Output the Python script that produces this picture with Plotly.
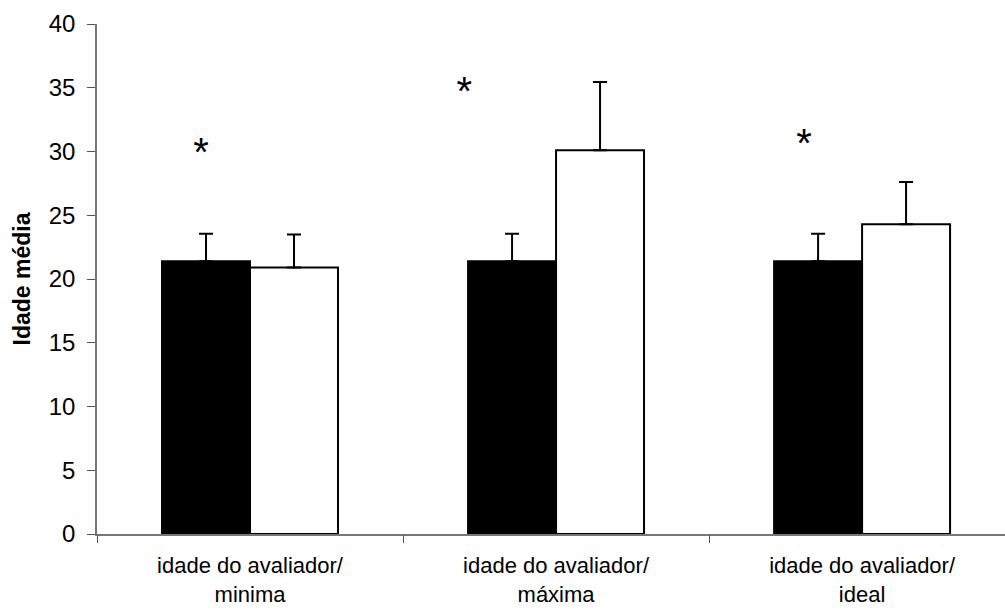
import plotly.graph_objects as go

categories = ["idade do avaliador/<br>minima", "idade do avaliador/<br>máxima", "idade do avaliador/<br>ideal"]
cat_pos = [0, 1, 2]
black_means = [21.4, 21.4, 21.4]
black_err = [2.15, 2.15, 2.15]
white_means = [20.9, 30.1, 24.3]
white_err = [2.6, 5.35, 3.3]
star_x = [-0.16, 0.70, 1.81]
star_y = [29.65, 34.45, 30.35]
y_ticks = [0, 5, 10, 15, 20, 25, 30, 35, 40]
boundaries = [-0.5, 0.5, 1.5, 2.5]

FONT = "Liberation Sans, Arial, sans-serif"
xr = [-0.5, 2.467]

fig = go.Figure()
fig.add_trace(go.Bar(
    x=cat_pos, y=black_means, marker=dict(color="black", line=dict(color="black", width=2)),
    error_y=dict(type="data", symmetric=False, array=black_err, arrayminus=[0, 0, 0],
                 color="black", thickness=2, width=7),
    showlegend=False))
fig.add_trace(go.Bar(
    x=cat_pos, y=white_means, marker=dict(color="white", line=dict(color="black", width=2)),
    error_y=dict(type="data", symmetric=False, array=white_err, arrayminus=[0, 0, 0],
                 color="black", thickness=2, width=7),
    showlegend=False))
fig.add_trace(go.Scatter(
    x=star_x, y=star_y, mode="text", text=["*"] * 3,
    textfont=dict(family=FONT, size=40, color="black"), textposition="middle center",
    showlegend=False, hoverinfo="skip"))
# invisible trace to activate boundary tick axis
fig.add_trace(go.Scatter(x=boundaries, y=[0] * 4, xaxis="x2", mode="markers",
                         marker=dict(opacity=0), showlegend=False, hoverinfo="skip"))

fig.update_layout(
    width=1005, height=612,
    margin=dict(l=97, r=0, t=24, b=78),
    plot_bgcolor="white", paper_bgcolor="white",
    barmode="group", bargap=0.425, bargroupgap=0,
    font=dict(family=FONT, color="black"),
    xaxis=dict(range=xr, tickvals=cat_pos, ticktext=categories, ticks="",
               showline=True, linecolor="#777777", linewidth=1.5, showgrid=False,
               zeroline=False, tickfont=dict(size=22), ticklabelstandoff=11,
               automargin=False),
    xaxis2=dict(range=xr, overlaying="x", anchor="y", side="bottom",
                tickvals=boundaries, ticks="outside", ticklen=8, tickcolor="#555555",
                tickwidth=1, showticklabels=False, showline=False, showgrid=False,
                zeroline=False, automargin=False),
    yaxis=dict(range=[0, 40], tickvals=y_ticks, ticks="outside", ticklen=8,
               tickcolor="#555555", tickwidth=1, showline=True, linecolor="#777777",
               linewidth=1.5, showgrid=False, zeroline=False, tickfont=dict(size=24),
               ticklabelstandoff=7, automargin=False,
               title=dict(text="<b>Idade média</b>", font=dict(size=23), standoff=12)),
)
fig.write_html("out.html")
